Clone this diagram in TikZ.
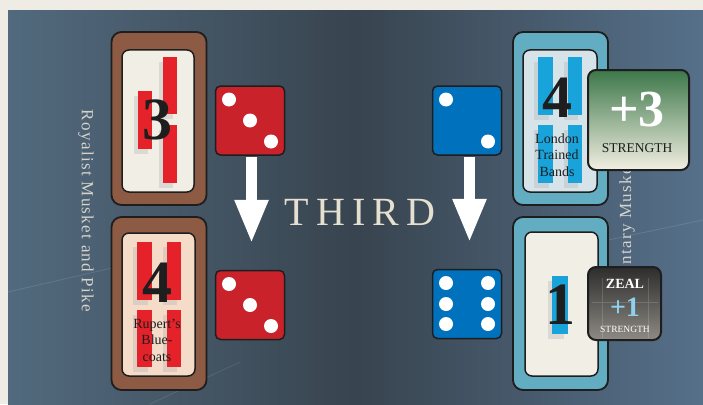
\documentclass[tikz,border=0pt]{standalone}
\usepackage{fontspec}
\setmainfont{Liberation Serif}
\usetikzlibrary{arrows.meta}
\definecolor{paper}{HTML}{EFECE6}
\definecolor{slateL}{HTML}{526A7E}
\definecolor{slateM}{HTML}{38444F}
\definecolor{slateR}{HTML}{56708A}
\definecolor{frameBrown}{HTML}{8D5A44}
\definecolor{frameBlue}{HTML}{63ADC3}
\definecolor{cardCream}{HTML}{F1EEE6}
\definecolor{cardPeach}{HTML}{F4DCC8}
\definecolor{cardIce}{HTML}{D6E4EA}
\definecolor{stripeRed}{HTML}{E5222A}
\definecolor{stripeBlue}{HTML}{18A3DB}
\definecolor{dieRed}{HTML}{C9222B}
\definecolor{dieBlue}{HTML}{0071BC}
\definecolor{inkDark}{HTML}{1E1E1E}
\definecolor{sideText}{HTML}{D6D3CA}
\definecolor{thirdText}{HTML}{E6E0D0}
\definecolor{zealBlue}{HTML}{8FD0EE}
\tikzset{
  frame/.style={draw=inkDark, line width=1.8pt, rounded corners=10pt, minimum width=95pt, minimum height=173pt, inner sep=0pt},
  card/.style={draw=inkDark, line width=1.5pt, rounded corners=7pt, minimum width=73pt, minimum height=142pt, inner sep=0pt},
  die/.style={draw=inkDark, line width=1.5pt, rounded corners=5pt, minimum size=69pt, inner sep=0pt},
  pip/.style={fill=white},
  shadowbar/.style={fill=black!30, opacity=0.35},
  digit/.style={font=\bfseries\fontsize{60}{60}\selectfont, text=inkDark, inner sep=0pt},
  cardlabel/.style={font=\fontsize{14}{16.5}\selectfont, text=inkDark, align=center, inner sep=0pt},
  sidelabel/.style={font=\fontsize{17}{17}\selectfont\addfontfeatures{LetterSpace=8}, text=sideText, inner sep=0pt},
  bigarrow/.style={draw=white, line width=11pt, -{Triangle[width=31pt,length=44pt]}, shorten <=1pt, shorten >=26pt},
  bonus/.style={draw=inkDark, line width=2pt, rounded corners=8pt, inner sep=0pt}
}
\begin{document}
\begin{tikzpicture}[x=1pt,y=-1pt]
\useasboundingbox (0,0) rectangle (703,404);
% background
\fill[paper] (0,0) rectangle (703,404);
\shade[left color=slateL, right color=slateR, middle color=slateM] (8,11) rectangle (703,404);
\draw[white, opacity=0.12, line width=0.8pt] (8,292) -- (112,268);
\draw[white, opacity=0.12, line width=0.8pt] (608,240) -- (703,220);
\draw[white, opacity=0.10, line width=0.8pt] (150,404) -- (240,362);

% side labels
\node[sidelabel, rotate=-90] (royal) at (86,211) {Royalist Musket and Pike};
\node[sidelabel, rotate=90] (parl) at (627,212) {Parliamentary Musket and Pike};

% card frames
\node[frame, fill=frameBrown] (fTL) at (159,118.5) {};
\node[frame, fill=frameBrown] (fBL) at (159,303.5) {};
\node[frame, fill=frameBlue] (fTR) at (560.5,118.5) {};
\node[frame, fill=frameBlue] (fBR) at (560.5,303.5) {};
% inner cards
\node[card, fill=cardCream, minimum width=72pt] (cTL) at (158,121) {};
\node[card, fill=cardPeach, minimum height=143pt] (cBL) at (158.5,304.5) {};
\node[card, fill=cardIce, minimum width=74pt] (cTR) at (560,121) {};
\node[card, fill=cardCream, minimum height=144pt] (cBR) at (561.5,304) {};

% stripes top-left
\fill[shadowbar] (159,62) rectangle (173,119);
\fill[shadowbar] (159,130) rectangle (173,188);
\fill[shadowbar] (134,96) rectangle (148,154);
\fill[stripeRed] (163,57) rectangle (177,114);
\fill[stripeRed] (163,125) rectangle (177,183);
\fill[stripeRed] (138,91) rectangle (152,149);
% stripes bottom-left
\fill[shadowbar] (133,247) rectangle (148,305);
\fill[shadowbar] (163,247) rectangle (177,305);
\fill[shadowbar] (133,315) rectangle (148,372);
\fill[shadowbar] (163,315) rectangle (177,372);
\fill[stripeRed] (137,242) rectangle (152,300);
\fill[stripeRed] (167,242) rectangle (181,300);
\fill[stripeRed] (137,310) rectangle (152,367);
\fill[stripeRed] (167,310) rectangle (181,367);
% stripes top-right
\fill[shadowbar] (534,62) rectangle (549,120);
\fill[shadowbar] (564,62) rectangle (578,120);
\fill[shadowbar] (534,130) rectangle (549,188);
\fill[shadowbar] (564,130) rectangle (578,188);
\fill[stripeBlue] (538,57) rectangle (553,115);
\fill[stripeBlue] (568,57) rectangle (582,115);
\fill[stripeBlue] (538,125) rectangle (553,183);
\fill[stripeBlue] (568,125) rectangle (582,183);
% stripe bottom-right
\fill[shadowbar] (548,281) rectangle (564,339);
\fill[stripeBlue] (552,276) rectangle (568,334);

% digits and labels
\node[digit] (nTL) at (157,120) {3};
\node[digit] (nBL) at (157,283) {4};
\node[digit] (nTR) at (557,98) {4};
\node[digit] (nBR) at (560,305) {1};
\node[cardlabel] (lBL) at (157,340) {Rupert's\\Blue-\\coats};
\node[cardlabel] (lTR) at (557,155) {London\\Trained\\Bands};

% dice
\node[die, fill=dieRed] (d1) at (250,120.5) {};
\node[die, fill=dieBlue] (d2) at (467,120.5) {};
\node[die, fill=dieRed] (d3) at (250,305) {};
\node[die, fill=dieBlue] (d4) at (467,304) {};
\foreach \d in {d1,d3}{
  \foreach \p in {(-21,-21),(0,0),(21,21)}{
    \fill[pip] ([shift={\p}]\d.center) circle[radius=7pt];
  }
}
\foreach \p in {(-21,-21),(21,21)}{
  \fill[pip] ([shift={\p}]d2.center) circle[radius=7pt];
}
\foreach \p in {(-21,-21),(-21,0),(-21,20),(21,-21),(21,0),(21,20)}{
  \fill[pip] ([shift={\p}]d4.center) circle[radius=7pt];
}

% arrows
\draw[bigarrow] ([xshift=1.5pt]d1.south) -- ([xshift=1.5pt]d3.north);
\draw[bigarrow] ([xshift=2.5pt]d2.south) -- ([xshift=2.5pt]d4.north);

% THIRD
\node[font=\fontsize{40}{40}\selectfont\addfontfeatures{LetterSpace=18}, text=thirdText, inner sep=0pt] (third) at (360,212) {THIRD};

% bonus boxes
\node[bonus, minimum width=101pt, minimum height=100pt,
      top color={rgb,255:red,60;green,119;blue,73}, middle color={rgb,255:red,167;green,191;blue,162}, bottom color={rgb,255:red,242;green,239;blue,226}] (plus3) at (638.5,120) {};
\node[font=\bfseries\fontsize{52}{52}\selectfont, text=white, inner sep=0pt] (plus3n) at (637,110) {+3};
\node[font=\fontsize{13.5}{13.5}\selectfont, text=inkDark, inner sep=0pt] (plus3s) at (637,148) {STRENGTH};

\node[bonus, minimum width=73pt, minimum height=73pt,
      top color={rgb,255:red,45;green,45;blue,45}, bottom color={rgb,255:red,142;green,138;blue,131}] (zeal) at (624.5,303.5) {};
\draw[white, opacity=0.15, line width=0.5pt] (602,278) -- (602,338) (648,278) -- (648,338) (592,302) -- (658,302);
\node[font=\bfseries\fontsize{14}{14}\selectfont, text=white, inner sep=0pt] (zealt) at (625,284) {ZEAL};
\node[font=\bfseries\fontsize{28}{28}\selectfont, text=zealBlue, inner sep=0pt] (zealn) at (625,307) {+1};
\node[font=\fontsize{9.5}{9.5}\selectfont, text=white, inner sep=0pt] (zeals) at (625,329) {STRENGTH};
\end{tikzpicture}
\end{document}
